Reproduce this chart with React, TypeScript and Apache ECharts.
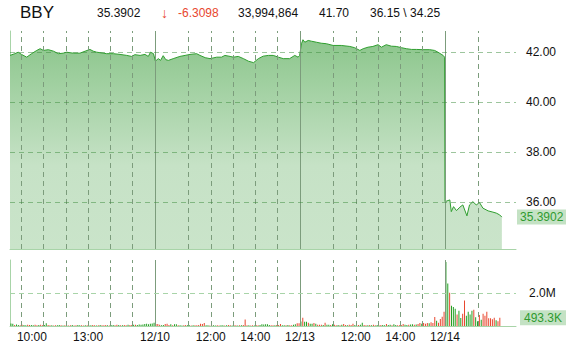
import React, { useEffect, useRef } from "react";
import * as echarts from "echarts";

const FONT = '"Liberation Sans", Arial, sans-serif';

// Header
const symbol = "BBY";
const lastPriceText = "35.3902";
const changeText = "-6.3098";
const totalVolumeText = "33,994,864";
const openText = "41.70";
const highLowText = "36.15 \\ 34.25";

// Trading-time axis: minutes since 9:30 on 12/9, 390 minutes per session
const xMax = 1361;
const sessionLength = 390;
const barMinutes = 5;

// Price (time in trading minutes, price)
const priceTimes = [
  0, 13, 22, 31, 45, 58, 72, 81, 90, 103, 117, 130, 143, 152, 170, 188, 202, 215, 224, 233, 242, 260, 278, 296, 314, 327, 336, 350, 363, 372, 378, 386,
  391, 399, 405, 412, 419, 426, 439, 457, 471, 484, 502, 511, 525, 538, 556, 569, 578, 592, 601, 614, 628, 641, 655, 668, 681, 695, 708, 722, 735, 752, 766, 775, 779,
  784, 788, 793, 802, 811, 824, 837, 851, 869, 891, 914, 927, 941, 950, 963, 976, 990, 999, 1012, 1026, 1039, 1053, 1066, 1080, 1093, 1111, 1129, 1142, 1151, 1165, 1169,
  1170, 1183, 1187, 1193, 1201, 1210, 1218, 1229, 1236, 1245, 1254, 1263, 1272, 1286, 1299, 1308, 1317, 1323,
];
const priceValues = [
  41.88, 41.95, 42.01, 41.92, 41.81, 41.95, 42.08, 42.15, 42.08, 42.11, 42.05, 41.95, 41.97, 42.01, 41.97, 41.97, 42.05, 42.12, 42.05, 42.01, 41.99, 41.95, 41.95, 41.92, 41.88, 41.84, 41.91, 41.88, 41.92, 41.84, 42.01, 41.95,
  41.65, 41.75, 41.68, 41.87, 41.71, 41.68, 41.75, 41.84, 41.88, 41.92, 41.95, 41.88, 41.79, 41.75, 41.81, 41.81, 41.88, 41.84, 41.81, 41.84, 41.75, 41.65, 41.59, 41.75, 41.85, 41.88, 41.88, 41.81, 41.75, 41.75, 41.88, 41.81, 41.88,
  42.35, 42.51, 42.41, 42.48, 42.45, 42.41, 42.37, 42.35, 42.28, 42.28, 42.24, 42.19, 42.08, 42.15, 42.21, 42.24, 42.31, 42.21, 42.31, 42.25, 42.24, 42.19, 42.15, 42.12, 42.12, 42.11, 42.11, 42.08, 42.01, 41.88, 41.81,
  36.01, 36.08, 35.61, 35.81, 35.65, 35.79, 35.88, 35.44, 35.88, 36.01, 35.88, 35.97, 35.75, 35.64, 35.59, 35.55, 35.48, 35.3902,
];
const lastPrice = 35.3902;
const priceMin = 34.11;
const priceMax = 42.86;
const priceTicks = [36, 38, 40, 42];

// Volume, 5-minute bars, in thousands; u = up (green), d = down (red)
const vol1 = [
  150, 140, 60, 90, 60, 50, 80, 60, 40, 70,
  55, 60, 45, 80, 50, 60, 70, 45, 55, 160,
  60, 50, 40, 35, 50, 45, 60, 40, 30, 45,
  50, 35, 40, 55, 30, 45, 60, 40, 50, 35,
  45, 40, 30, 50, 55, 40, 35, 45, 60, 50,
  40, 55, 45, 35, 50, 60, 45, 70, 55, 40,
  50, 60, 45, 70, 55, 60, 80, 70, 60, 90,
  75, 85, 120, 140, 110, 130, 150, 200,
];
const dir1 = "uuduudduud" + "duuddudduu" + "ddudduudud" + "uddudduudd" + "uduuddudud" + "dduduuddud" + "uddudduduu" + "uuuuuuuu";
const vol2 = [
  120, 120, 80, 50, 60, 120, 140, 60, 100, 50,
  100, 100, 40, 50, 35, 45, 60, 40, 50, 30,
  45, 50, 40, 60, 140, 120, 180, 50, 40, 35,
  50, 40, 30, 45, 35, 50, 40, 30, 45, 55,
  40, 35, 50, 45, 30, 40, 50, 60, 400, 50,
  40, 35, 45, 30, 50, 40, 60, 100, 90, 100,
  100, 60, 45, 50, 40, 55, 60, 120, 50, 40,
  45, 60, 50, 40, 70, 100, 160, 160,
];
const dir2 = "ddduudddud" + "uuduudduud" + "udddddduud" + "duudduudud" + "duddududdd" + "uddudduuuu" + "uudduddduu" + "dudduudd";
const vol3 = [
  280, 500, 260, 260, 200, 140, 140, 180, 140, 80,
  80, 80, 60, 200, 80, 80, 60, 100, 70, 50,
  60, 50, 80, 120, 60, 50, 70, 60, 130, 60,
  50, 60, 80, 200, 60, 50, 40, 60, 50, 70,
  50, 60, 40, 55, 60, 50, 120, 60, 70, 50,
  100, 60, 50, 40, 60, 120, 70, 60, 80, 90,
  100, 80, 90, 120, 180, 140, 180, 140, 180, 160,
  220, 180, 545, 320, 200, 425, 565, 870,
];
const dir3 = "uduuduudud" + "dduduududd" + "ududdudddu" + "dduuddudud" + "dudduuduud" + "uudddduudu" + "ududdudddu" + "dddudddd";
const vol4 = [
  3880, 2570, 2020, 1230, 1150, 1050, 690, 930, 485, 750,
  1540, 625, 870, 690, 930, 990, 525, 285, 667, 385,
  750, 625, 870, 465, 465, 405, 505, 345, 285, 493.3,
];
const dir4 = "uuduuuduud" + "duuuuduudu" + "dddddddudd";
const lastVolume = 493.3;
const volumeMax = 4000;
const volumeTicks = [2000];

// Time grid
const hourLines = [30, 90, 150, 210, 270, 330, 480, 540, 600, 660, 720, 870, 930, 990, 1050, 1110, 1260];
const sessionBreaks = [390, 780, 1170];
const xLabelTimes = [59, 210, 390, 540, 660, 780, 930, 1050, 1170];
const xLabelTexts = ["10:00", "13:00", "12/10", "12:00", "14:00", "12/13", "12:00", "14:00", "12/14"];

const UP = "#22a022";
const DOWN = "#e8472f";
const GRID_V = "#7c9c7c";
const BORDER = "#a8d4a8";

function buildVolume() {
  const days = [
    [vol1, dir1],
    [vol2, dir2],
    [vol3, dir3],
    [vol4, dir4],
  ] as const;
  const out: any[] = [];
  days.forEach(([vols, dirs], d) => {
    (vols as number[]).forEach((v, i) => {
      out.push({
        value: [d * sessionLength + i * barMinutes + 2.5, v],
        itemStyle: { color: (dirs as string)[i] === "u" ? UP : DOWN },
      });
    });
  });
  return out;
}

function vLines() {
  return [
    ...hourLines.map((t) => ({ xAxis: t, lineStyle: { type: [5, 4], color: GRID_V, width: 1 } })),
    ...sessionBreaks.map((t) => ({ xAxis: t, lineStyle: { type: "solid", color: GRID_V, width: 1 } })),
  ];
}

export default function App() {
  const ref = useRef<HTMLDivElement>(null);
  useEffect(() => {
    if (!ref.current) return;
    const chart = echarts.init(ref.current, null, { renderer: "svg" });
    const hText = (text: string, x: number, y: number, size: number, fill: string, weight = "normal") => ({
      type: "text",
      x,
      y,
      style: { text, fontSize: size, fontWeight: weight, fontFamily: FONT, fill, verticalAlign: "middle", textVerticalAlign: "middle" },
    });
    const option: any = {
      animation: false,
      backgroundColor: "#ffffff",
      graphic: [
        hText(symbol, 20, 12, 17, "#111111"),
        hText(lastPriceText, 97, 13, 12, "#111111"),
        hText("\u2193", 161, 13, 14, DOWN, "bold"),
        hText(changeText, 178, 13, 12, DOWN),
        hText(totalVolumeText, 238, 13, 12, "#111111"),
        hText(openText, 319, 13, 12, "#111111"),
        hText(highLowText, 370, 13, 12, "#111111"),
      ],
      grid: [
        { left: 10, right: 50, top: 31, bottom: 101, outerBoundsMode: "none", containLabel: false },
        { left: 10, right: 50, top: 260, bottom: 24, outerBoundsMode: "none", containLabel: false },
      ],
      xAxis: [
        {
          type: "value",
          gridIndex: 0,
          min: 0,
          max: xMax,
          axisLine: { show: true, onZero: false, lineStyle: { color: BORDER } },
          axisTick: { show: false },
          axisLabel: { show: false },
          splitLine: { show: false },
        },
        {
          type: "value",
          gridIndex: 1,
          min: 0,
          max: xMax,
          axisLine: { show: true, onZero: false, lineStyle: { color: BORDER } },
          axisTick: { show: false },
          splitLine: { show: false },
          axisLabel: {
            show: true,
            customValues: xLabelTimes,
            formatter: (v: number) => {
              const i = xLabelTimes.indexOf(v);
              return i >= 0 ? xLabelTexts[i] : "";
            },
            color: "#111111",
            fontSize: 12,
            fontFamily: FONT,
            margin: 5,
          },
        },
      ],
      yAxis: [
        {
          type: "value",
          gridIndex: 0,
          position: "right",
          min: priceMin,
          max: priceMax,
          axisLine: { show: true, lineStyle: { color: BORDER } },
          axisTick: { show: false },
          splitLine: { show: false },
          axisLabel: {
            customValues: priceTicks,
            formatter: (v: number) => v.toFixed(2),
            color: "#111111",
            fontSize: 12,
            fontFamily: FONT,
            margin: 10,
          },
        },
        {
          type: "value",
          gridIndex: 1,
          position: "right",
          min: 0,
          max: volumeMax,
          axisLine: { show: true, lineStyle: { color: BORDER } },
          axisTick: { show: false },
          splitLine: { show: false },
          axisLabel: {
            customValues: volumeTicks,
            formatter: (v: number) => (v / 1000).toFixed(1) + "M",
            color: "#111111",
            fontSize: 12,
            fontFamily: FONT,
            margin: 13,
          },
        },
      ],
      series: [
        {
          type: "line",
          xAxisIndex: 0,
          yAxisIndex: 0,
          data: priceTimes.map((t, i) => [t, priceValues[i]]),
          symbol: "none",
          showSymbol: false,
          lineStyle: { color: "#2f9e2f", width: 1 },
          areaStyle: {
            origin: "start",
            opacity: 1,
            color: new echarts.graphic.LinearGradient(0, 0, 0, 1, [
              { offset: 0, color: "#8cc68c" },
              { offset: 0.6, color: "#c6e2c6" },
              { offset: 1, color: "#cae4ca" },
            ]),
          },
          markLine: {
            silent: true,
            symbol: ["none", "none"],
            label: { show: false },
            emphasis: { disabled: true },
            data: [
              ...vLines(),
              ...priceTicks.map((v) => ({ yAxis: v, lineStyle: { type: [5, 4], color: "rgba(60,140,60,0.5)", width: 1 } })),
              {
                yAxis: lastPrice,
                lineStyle: { color: "transparent", width: 0 },
                label: {
                  show: true,
                  position: "end",
                  formatter: lastPriceText,
                  color: "#2f9a2f",
                  backgroundColor: "#c4e2c4",
                  padding: [2, 3, 1, 3],
                  distance: 1,
                  fontSize: 12,
                  fontFamily: FONT,
                },
              },
            ],
          },
        },
        {
          type: "bar",
          xAxisIndex: 1,
          yAxisIndex: 1,
          barWidth: 1,
          data: buildVolume(),
          markLine: {
            silent: true,
            symbol: ["none", "none"],
            label: { show: false },
            emphasis: { disabled: true },
            data: [
              ...vLines(),
              ...volumeTicks.map((v) => ({ yAxis: v, lineStyle: { type: [5, 4], color: BORDER, width: 1 } })),
              {
                yAxis: lastVolume,
                lineStyle: { color: "transparent", width: 0 },
                label: {
                  show: true,
                  position: "end",
                  formatter: lastVolume.toFixed(1) + "K",
                  color: "#2f9a2f",
                  backgroundColor: "#c4e2c4",
                  padding: [2, 4, 1, 4],
                  distance: 4,
                  fontSize: 12,
                  fontFamily: FONT,
                },
              },
            ],
          },
        },
      ],
    };
    chart.setOption(option);
    return () => chart.dispose();
  }, []);
  return <div ref={ref} style={{ position: "absolute", left: 0, top: 0, width: 566, height: 350 }} />;
}
